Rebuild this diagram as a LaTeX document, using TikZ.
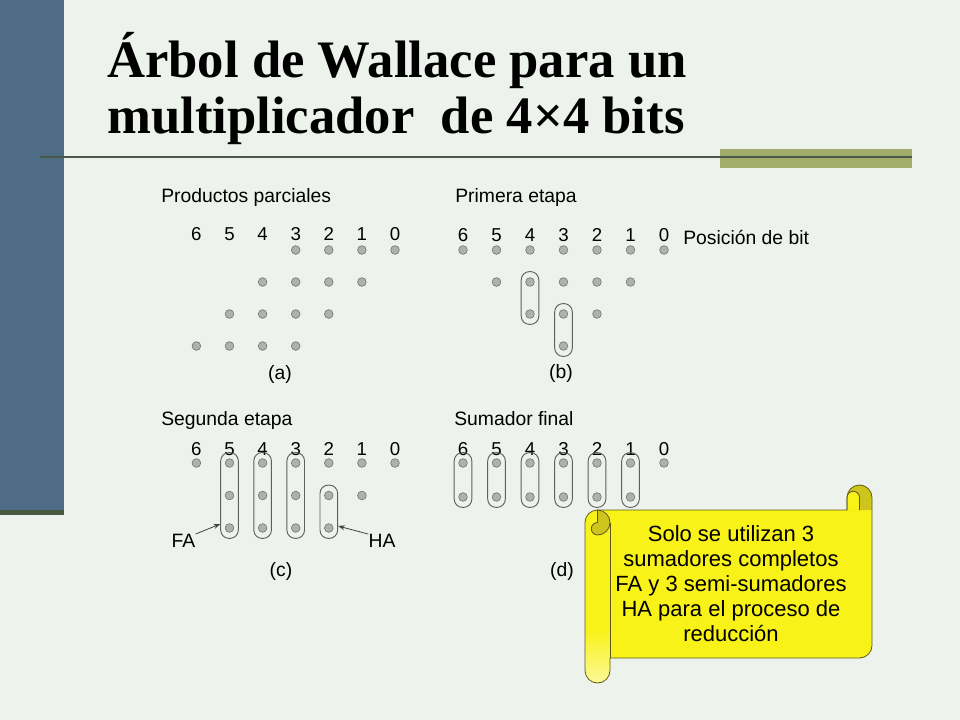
\documentclass[tikz,border=0pt]{standalone}
\usepackage{fontspec}
\setmainfont{Liberation Sans}
\newfontfamily\titlefont{Liberation Serif}
\usetikzlibrary{fit,calc,arrows.meta}
\definecolor{bg}{RGB}{238,242,236}
\definecolor{barblue}{RGB}{79,108,134}
\definecolor{bardark}{RGB}{74,90,62}
\definecolor{rulec}{RGB}{74,88,72}
\definecolor{olivebar}{RGB}{163,173,107}
\definecolor{dotfill}{RGB}{176,176,176}
\definecolor{dotline}{RGB}{120,120,120}
\definecolor{ovalc}{RGB}{95,95,95}
\definecolor{scrollY}{RGB}{248,242,25}
\definecolor{scrollD}{RGB}{205,196,30}
\definecolor{scrollL}{RGB}{95,90,25}
\begin{document}
\begin{tikzpicture}[x=0.75pt,y=-0.75pt,
  dot/.style={circle, fill=dotfill, draw=dotline, line width=0.5pt, minimum size=6.5pt, inner sep=0pt},
  digit/.style={font=\fontsize{14}{14}\selectfont, anchor=base, inner sep=0pt},
  lab/.style={font=\fontsize{14.5}{14.5}\selectfont, anchor=base west, inner sep=0pt},
  captxt/.style={font=\fontsize{14.5}{14.5}\selectfont, inner sep=0pt},
  oval/.style={draw=ovalc, line width=0.7pt, rounded corners=6.2pt, inner xsep=3.1pt, inner ysep=4.3pt},
  arr/.style={draw=black!75, line width=0.6pt, -{Stealth[length=5pt,width=3.6pt]}},
  titlest/.style={anchor=base west, inner sep=0pt, font=\titlefont\bfseries\fontsize{39.5}{40}\selectfont},
  scrolltext/.style={font=\fontsize{16.5}{18.75}\selectfont, align=center, inner sep=0pt}
]
\useasboundingbox (0,0) rectangle (960,720);
\fill[bg] (0,0) rectangle (960,720);
% left bar and rule
\fill[barblue] (0,0) rectangle (64,510);
\fill[bardark] (0,510) rectangle (64,515);
\fill[olivebar] (720,149) rectangle (912,168);
\draw[rulec, line width=1.5pt] (40,157) -- (912,157);
% title
\node[titlest] (t1) at (107,78) {Árbol de Wallace para un};
\node[titlest] (t2) at (107,134) {multiplicador\ \ de 4×4 bits};
% panel labels
\node[lab] (la) at (161,203) {Productos parciales};
\node[lab] (lb) at (455,203) {Primera etapa};
\node[lab] (lc) at (161,425) {Segunda etapa};
\node[lab] (ld) at (454,425) {Sumador final};
\node[lab] (pos) at (683,245) {Posición de bit};
% digits
\foreach \c in {0,...,6} {
  \node[digit] (a-d\c) at ({395-33.1*\c},241) {\c};
  \node[digit] (b-d\c) at ({664-33.5*\c},242) {\c};
  \node[digit] (c-d\c) at ({395-33.1*\c},455) {\c};
  \node[digit] (d-d\c) at ({664-33.5*\c},455) {\c};
}
% dots
\foreach \r/\lo/\hi in {1/0/3,2/1/4,3/2/5,4/3/6}
  \foreach \c in {\lo,...,\hi}
    \node[dot] (a-\r-\c) at ({395-33.1*\c},{250+32*(\r-1)}) {};
\foreach \r/\lo/\hi in {1/0/6,2/1/5,3/2/4,4/3/3}
  \foreach \c in {\lo,...,\hi}
    \node[dot] (b-\r-\c) at ({664-33.5*\c},{250+32*(\r-1)}) {};
\foreach \r/\lo/\hi in {1/0/6,2/1/5,3/2/5}
  \foreach \c in {\lo,...,\hi}
    \node[dot] (c-\r-\c) at ({395-33.1*\c},{463+32.5*(\r-1)}) {};
\foreach \r/\lo/\hi in {1/0/6,2/1/6}
  \foreach \c in {\lo,...,\hi}
    \node[dot] (d-\r-\c) at ({664-33.5*\c},{463+34*(\r-1)}) {};
% ovals
\node[oval, fit=(b-2-4)(b-3-4)] (ob4) {};
\node[oval, fit=(b-3-3)(b-4-3)] (ob3) {};
\foreach \c in {3,4,5} \node[oval, fit=(c-1-\c)(c-3-\c)] (oc\c) {};
\node[oval, fit=(c-2-2)(c-3-2)] (oc2) {};
\foreach \c in {1,...,6} \node[oval, fit=(d-1-\c)(d-2-\c)] (od\c) {};
% captions
\node[captxt] (capa) at (280,374) {(a)};
\node[captxt] (capb) at (561,373) {(b)};
\node[captxt] (capc) at (281,571) {(c)};
\node[captxt] (capd) at (562,571) {(d)};
% FA / HA
\node[captxt] (fa) at (183.5,541) {FA};
\node[captxt] (ha) at (382,541) {HA};
\draw[arr] (fa.north east) -- ($(oc5.west |- c-3-5)+(0,-4)$);
\draw[arr] (ha.north west) -- ($(oc2.east |- c-3-2)+(0,-2)$);
% scroll
\fill[scrollY] (585,522.5) arc[start angle=180,end angle=270,radius=12.5] -- (847,510) -- (847,497.5)
  arc[start angle=180,end angle=360,radius=12.5] -- (872,645.5) arc[start angle=0,end angle=90,radius=12.5]
  -- (610,658) -- (610,670.5) arc[start angle=0,end angle=180,radius=12.5] -- cycle;
\shade[top color=scrollY, bottom color=scrollY!45!white] (585,630) -- (585,670.5)
  arc[start angle=180,end angle=0,radius=12.5] -- (610,630) -- cycle;
\fill[scrollD] (847,497.5) arc[start angle=180,end angle=360,radius=12.5] -- (872,510) -- (847,510) -- cycle;
\filldraw[fill=scrollY, draw=scrollL, line width=0.6pt] (847,510) -- (847,497.5) arc[start angle=180,end angle=360,radius=6.25] -- (859.5,510);
\filldraw[fill=scrollD, draw=scrollL, line width=0.6pt] (597.5,510) arc[start angle=270,end angle=450,radius=12.5] arc[start angle=90,end angle=270,radius=6.25] -- cycle;
\draw[scrollL, line width=0.6pt] (610,522.5) -- (610,658);
\draw[scrollL, line width=0.6pt] (585,522.5) arc[start angle=180,end angle=270,radius=12.5] -- (847,510) -- (847,497.5)
  arc[start angle=180,end angle=360,radius=12.5] -- (872,645.5) arc[start angle=0,end angle=90,radius=12.5]
  -- (610,658) -- (610,670.5) arc[start angle=0,end angle=180,radius=12.5] -- cycle;
\node[scrolltext] (note) at (731,584) {Solo se utilizan 3\\sumadores completos\\FA y 3 semi-sumadores\\HA para el proceso de\\reducción};
\end{tikzpicture}
\end{document}
